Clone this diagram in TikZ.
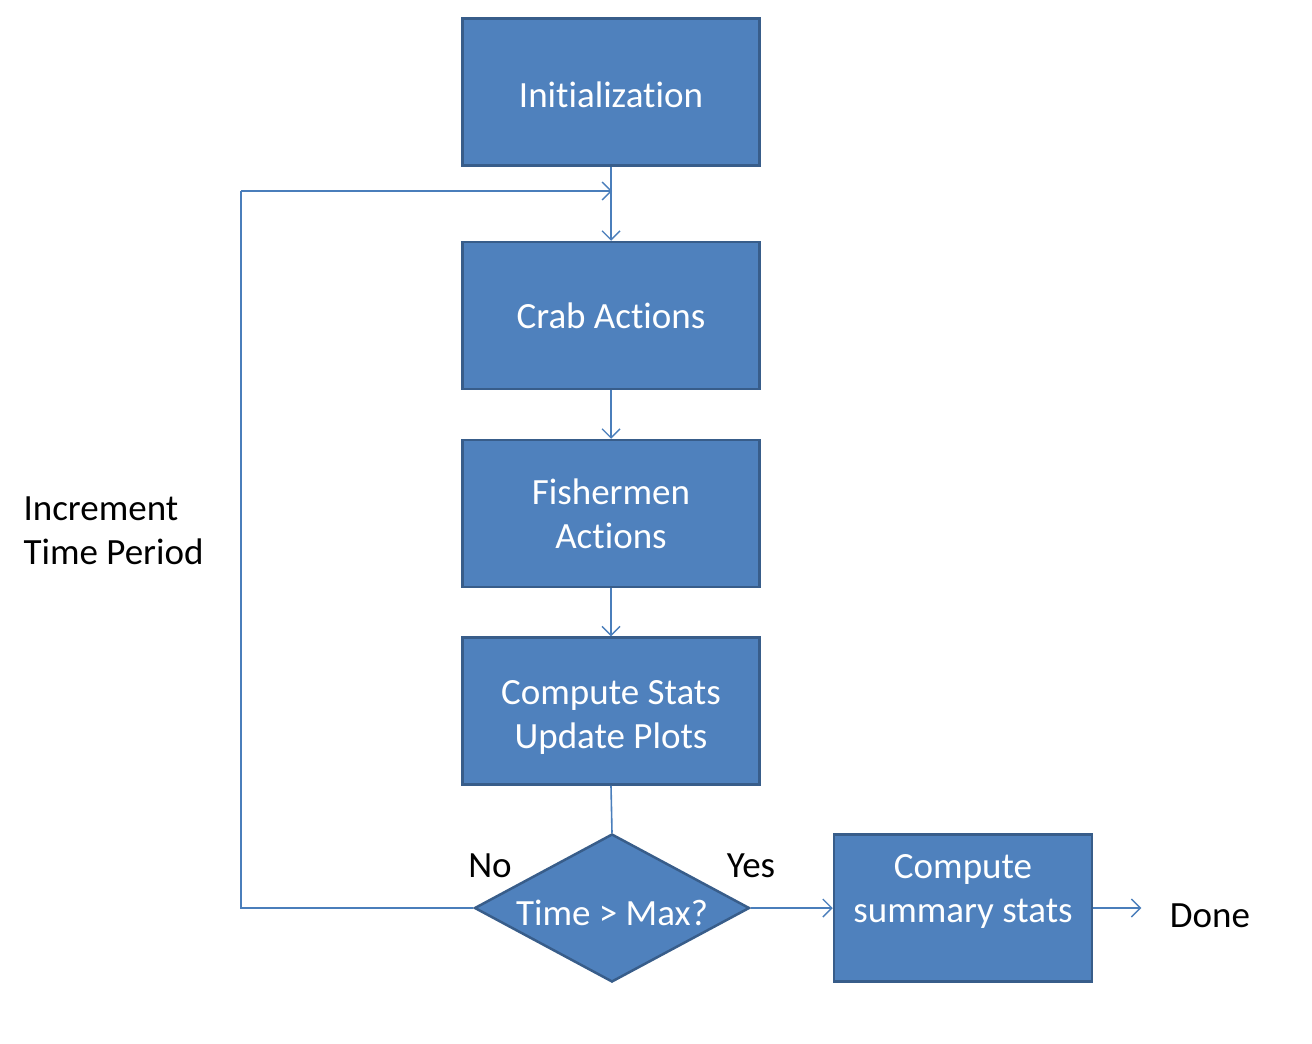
\documentclass[tikz,border=0pt]{standalone}
\usepackage{fontspec}
\setmainfont{Carlito}[Ligatures={NoCommon}]
\usetikzlibrary{shapes.geometric,arrows.meta}
\definecolor{boxfill}{HTML}{4F81BD}
\definecolor{boxline}{HTML}{385D8A}
\definecolor{conn}{HTML}{4A7EBB}
\newcommand{\bigtext}{\fontsize{37}{44}\selectfont}
\tikzset{
  stepbox/.style={draw=boxline,line width=2.5pt,fill=boxfill,minimum width=297pt,minimum height=147pt,inner sep=0pt,text=white,font=\bigtext,align=center},
  decide/.style={diamond,draw=boxline,line width=2.5pt,fill=boxfill,minimum width=275pt,minimum height=148pt,inner sep=0pt,shape aspect=1.86},
  conline/.style={draw=conn,line width=1.6pt},
  conarrow/.style={conline,-{Straight Barb[length=9pt,width=18pt,line width=1.4pt]}},
  plain/.style={text=black,font=\bigtext}
}
\begin{document}
\begin{tikzpicture}[x=1pt,y=-1pt]
\useasboundingbox (0,0) rectangle (1312,1044);
\node[stepbox] (init) at (611,92) {\raisebox{-15pt}[0pt][0pt]{Initialization}};
\node[stepbox] (crab) at (611,315.5) {Crab Actions};
\node[stepbox] (fish) at (611,513.5) {Fishermen\\Actions};
\node[stepbox] (stats) at (611,711) {\raisebox{-13pt}[0pt][0pt]{\begin{tabular}{@{}c@{}}Compute Stats\\Update Plots\end{tabular}}};
\node[stepbox,minimum width=258pt] (summ) at (963,908) {\raisebox{10pt}[0pt][0pt]{\begin{tabular}{@{}c@{}}Compute\\summary stats\end{tabular}}};
\node[decide] (dec) at (612,908) {};
\node[text=white,font=\bigtext] (dectext) at (612,913) {Time > Max?};
\node[plain] (no) at (490,866) {No};
\node[plain] (yes) at (751,866) {Yes};
\node[plain] (done) at (1210,916) {Done};
\node[plain,align=left,anchor=west] (inc) at (20,531) {Increment\\Time Period};
\coordinate (merge) at (612,191);
\coordinate (loopA) at (241,908);
\coordinate (loopB) at (241,191);
\draw[conarrow] (init.south) -- (crab.north);
\draw[conline] (dec.west) -- (loopA) -- (loopB);
\draw[conarrow] (loopB) -- (merge);
\draw[conarrow] (crab.south) -- (fish.north);
\draw[conarrow] (fish.south) -- (stats.north);
\draw[conline] (stats.south) -- (dec.north);
\draw[conarrow] (dec.east) -- (summ.west);
\draw[conarrow] (summ.east) -- ++(48,0) coordinate (doneend);
\end{tikzpicture}
\end{document}
